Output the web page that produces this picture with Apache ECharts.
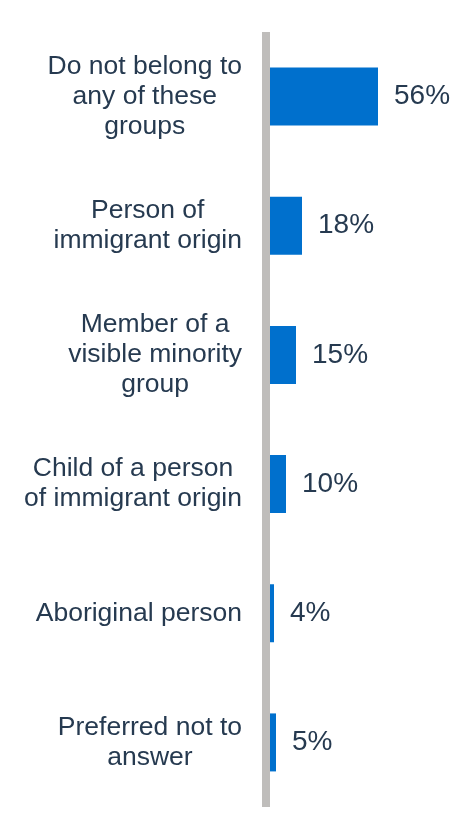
<!DOCTYPE html>
<html>
<head>
<meta charset="utf-8">
<title>Group membership</title>
<script src="https://cdn.jsdelivr.net/npm/echarts@6/dist/echarts.min.js"></script>
<style>
  html, body { margin: 0; padding: 0; background: #ffffff; }
  #chart { width: 468px; height: 814px; }
</style>
</head>
<body>
<div id="chart"></div>
<script>
// Respondent groups, top to bottom
const categories = [
  'Do not belong to\nany of these\ngroups',
  'Person of\nimmigrant origin',
  'Member of a\nvisible minority\ngroup',
  'Child of a person\nof immigrant origin',
  'Aboriginal person',
  'Preferred not to\nanswer'
];

// Share of respondents, in percent
const shares = [56, 18, 15, 10, 4, 5];

const FONT = '"Liberation Sans", Arial, sans-serif';
const TEXT_COLOR = '#263a50';

const chart = echarts.init(document.getElementById('chart'), null, { renderer: 'canvas' });

chart.setOption({
  animation: false,
  backgroundColor: '#ffffff',
  grid: { left: 266, top: 32, bottom: 7, width: 200, containLabel: false },
  xAxis: {
    type: 'value',
    min: 0,
    max: 100,
    show: false
  },
  yAxis: {
    type: 'category',
    data: categories,
    inverse: true,
    z: 10,
    axisLine: { show: true, lineStyle: { color: '#bfbdbb', width: 8, cap: 'butt' } },
    axisTick: { show: false },
    splitLine: { show: false },
    axisLabel: {
      margin: 24,
      color: TEXT_COLOR,
      fontFamily: FONT,
      fontSize: 26.5,
      lineHeight: 30,
      // each line is centred inside the right-aligned label block
      formatter: function (name) {
        return name.split('\n').map(function (line) { return '{c|' + line + '}'; }).join('\n');
      },
      rich: {
        c: { align: 'center', color: TEXT_COLOR, fontFamily: FONT, fontSize: 26.5, lineHeight: 30 }
      }
    }
  },
  series: [{
    type: 'bar',
    data: shares,
    barWidth: 58,
    itemStyle: { color: '#0070cd' },
    label: {
      show: true,
      position: 'right',
      distance: 16,
      formatter: '{c}%',
      color: TEXT_COLOR,
      fontFamily: FONT,
      fontSize: 28
    }
  }]
});
</script>
</body>
</html>
